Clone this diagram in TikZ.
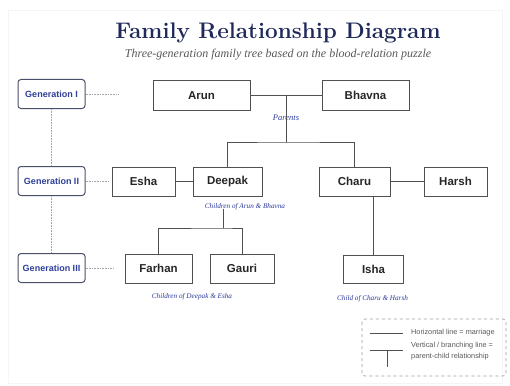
\documentclass[tikz,border=0pt]{standalone}
\usepackage{fontspec}
\newfontfamily\namefont{Liberation Sans}
\newfontfamily\itfont{Liberation Serif}
\definecolor{navy}{HTML}{1F2A5A}
\definecolor{genblue}{HTML}{2F3F9A}
\definecolor{genborder}{HTML}{4A4F6A}
\definecolor{labblue}{HTML}{2B3A9C}
\definecolor{boxline}{HTML}{505050}
\tikzset{
  person/.style={draw=boxline, line width=1pt, fill=white, minimum height=29pt, inner sep=0pt, font=\namefont\bfseries\fontsize{11.5}{12}\selectfont, text=black!85},
  gen/.style={draw=genborder, line width=1pt, rounded corners=3pt, fill=white, minimum width=67pt, minimum height=29pt, inner sep=0pt, font=\namefont\bfseries\fontsize{9}{10}\selectfont, text=genblue},
  link/.style={draw=boxline, line width=1pt},
  genlink/.style={draw=gray!70, line width=0.6pt, densely dotted},
  lab/.style={font=\itfont\itshape\fontsize{7.2}{8}\selectfont, text=labblue, inner sep=0pt},
  legtext/.style={font=\namefont\fontsize{7.3}{11}\selectfont, text=black!65, align=left, anchor=west, inner sep=0pt}
}
\begin{document}
\begin{tikzpicture}[x=1pt,y=-1pt]
\useasboundingbox (0,0) rectangle (510,385);
\fill[white] (0,0) rectangle (510,385);
\draw[gray!8, line width=0.6pt] (8,10) rectangle (502,383);
% title
\node[font=\bfseries\fontsize{22.5}{26}\selectfont, text=navy] (title) at (278,33) {Family Relationship Diagram};
\node[font=\itfont\itshape\fontsize{12}{14}\selectfont, text=black!65] (sub) at (278,55) {Three-generation family tree based on the blood-relation puzzle};
% generations
\node[gen] (g1) at (51.5,94) {Generation I};
\node[gen] (g2) at (51.5,181) {Generation II};
\node[gen] (g3) at (51.5,268) {Generation III};
\coordinate (g1e) at (118,94);
\coordinate (g2e) at (108,181);
\coordinate (g3e) at (113,268);
\draw[genlink] (g1.east) -- (g1e);
\draw[genlink] (g2.east) -- (g2e);
\draw[genlink] (g3.east) -- (g3e);
\draw[genlink] (g1.south) -- (g2.north);
\draw[genlink] (g2.south) -- (g3.north);
% persons
\node[person, minimum width=97pt] (arun) at (201.5,95.5) {Arun};
\node[person, minimum width=87pt] (bhavna) at (365.5,95.5) {Bhavna};
\node[person, minimum width=63pt] (esha) at (143.5,181.5) {Esha};
\node[person, minimum width=69pt] (deepak) at (227.5,181.5) {Deepak};
\node[person, minimum width=71pt] (charu) at (354.5,181.5) {Charu};
\node[person, minimum width=63pt] (harsh) at (455.5,181.5) {Harsh};
\node[person, minimum width=67pt] (farhan) at (158.5,268.5) {Farhan};
\node[person, minimum width=64pt] (gauri) at (242,268.5) {Gauri};
\node[person, minimum width=60pt, minimum height=28pt] (isha) at (373.5,269) {Isha};
% marriages
\draw[link] (arun.east) -- (bhavna.west);
\draw[link] (esha.east) -- (deepak.west);
\draw[link] (charu.east) -- (harsh.west);
% parents
\coordinate (m1) at (286,95.5);
\node[lab, font=\itfont\itshape\fontsize{8.5}{9}\selectfont] (parents) at (286,118) {Parents};
\coordinate (p1) at (286,142);
\draw[link] (m1) -- ([yshift=-3pt]parents.north -| m1);
\draw[link] ([yshift=3pt]parents.south -| m1) -- (p1);
\draw[link] (deepak.north) |- (p1) -| (charu.north);
\node[lab] (lab1) at (245,207) {Children of Arun \& Bhavna};
% gen III children
\coordinate (c2) at (223,228);
\draw[link] ([yshift=2pt]lab1.south -| c2) -- (c2);
\draw[link] (farhan.north) |- (c2) -| (gauri.north);
\node[lab] (lab2) at (192,297) {Children of Deepak \& Esha};
\draw[link] (charu.south -| isha.north) -- (isha.north);
\node[lab] (lab3) at (372.5,299) {Child of Charu \& Harsh};
% legend
\draw[gray!75, line width=0.7pt, dashed, rounded corners=3pt] (362,319) rectangle (506,376);
\coordinate (la) at (370,333);
\coordinate (lb) at (403,333);
\draw[link] (la) -- (lb);
\node[legtext] (lt1) at (411,333) {Horizontal line = marriage};
\coordinate (lc) at (370,350);
\coordinate (ld) at (403,350);
\coordinate (le) at (387,350);
\coordinate (lf) at (387,367);
\draw[link] (lc) -- (ld);
\draw[link] (le) -- (lf);
\node[legtext] (lt2) at (411,351) {Vertical / branching line =\\parent-child relationship};
\end{tikzpicture}
\end{document}
